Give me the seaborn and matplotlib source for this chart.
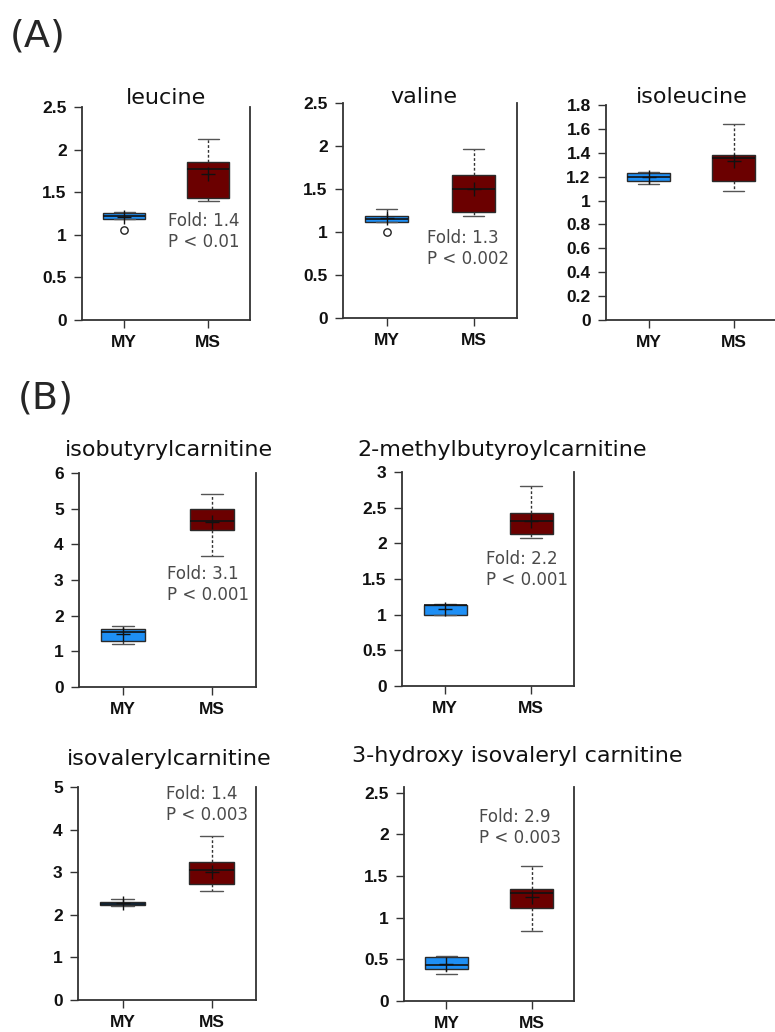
import numpy as np
import pandas as pd
import matplotlib
matplotlib.use('Agg')
import matplotlib.pyplot as plt
import seaborn as sns

# five-number summaries: [low whisker, Q1, median, Q3, high whisker]
groups = ['MY', 'MS']
box_colors = {'MY': '#1e8ff5', 'MS': '#6b0000'}

leucine_my = [1.18, 1.18, 1.22, 1.26, 1.27]
leucine_ms = [1.40, 1.43, 1.77, 1.85, 2.13]
leucine_means = [1.21, 1.71]
leucine_out = [1.06]

valine_my = [1.12, 1.12, 1.15, 1.19, 1.27]
valine_ms = [1.19, 1.23, 1.50, 1.66, 1.97]
valine_means = [1.16, 1.50]
valine_out = [1.00]

isoleucine_my = [1.14, 1.16, 1.20, 1.23, 1.24]
isoleucine_ms = [1.08, 1.16, 1.36, 1.38, 1.64]
isoleucine_means = [1.20, 1.33]

isobutyryl_my = [1.21, 1.28, 1.55, 1.62, 1.72]
isobutyryl_ms = [3.67, 4.40, 4.65, 5.00, 5.40]
isobutyryl_means = [1.48, 4.62]

methylbutyroyl_my = [1.00, 1.00, 1.13, 1.13, 1.15]
methylbutyroyl_ms = [2.08, 2.13, 2.32, 2.42, 2.81]
methylbutyroyl_means = [1.08, 2.32]

isovaleryl_my = [2.20, 2.22, 2.26, 2.29, 2.38]
isovaleryl_ms = [2.57, 2.73, 3.05, 3.23, 3.84]
isovaleryl_means = [2.27, 3.00]

hydroxy_my = [0.32, 0.39, 0.43, 0.53, 0.54]
hydroxy_ms = [0.84, 1.12, 1.30, 1.35, 1.62]
hydroxy_means = [0.44, 1.25]

sns.set_style('ticks')
plt.rcParams['font.family'] = ['DejaVu Sans']

W, H = 775, 1032
fig = plt.figure(figsize=(W / 100, H / 100), dpi=100)

tickfont = dict(fontfamily=['Liberation Sans', 'DejaVu Sans'], fontweight='bold', fontsize=12.5)
spine_col = '#333333'


def add_panel(rect, my, ms, means, ytop, yticks, outliers=None):
    l, r, t, b = rect
    ax = fig.add_axes([l / W, 1 - b / H, (r - l) / W, (b - t) / H])
    df = pd.DataFrame({'group': ['MY'] * len(my) + ['MS'] * len(ms), 'value': my + ms})
    sns.boxplot(data=df, x='group', y='value', hue='group', order=groups, palette=box_colors,
                width=0.5, whis=np.inf, showfliers=False, saturation=1, linecolor='#2a2a2a',
                linewidth=1, legend=False, ax=ax,
                whiskerprops={'linestyle': (0, (2, 1.5)), 'color': '#333333'},
                capprops={'color': '#555555'}, medianprops={'color': '#111111', 'linewidth': 1.2})
    ax.scatter([0, 1], means, marker='+', s=90, color='#111111', linewidths=1, zorder=5)
    if outliers:
        ax.scatter([0] * len(outliers), outliers, marker='o', s=28, facecolors='white',
                   edgecolors='#222222', linewidths=1, zorder=5)
    ax.set_xlim(-0.5, 1.5)
    ax.set_ylim(0, ytop)
    ax.set_xlabel('')
    ax.set_ylabel('')
    ax.set_yticks(yticks, labels=['%g' % v for v in yticks], **tickfont)
    ax.set_xticks([0, 1], labels=groups, **tickfont)
    ax.tick_params(axis='both', length=6, width=1.0, color=spine_col, pad=5, labelcolor='#111111')
    ax.spines['top'].set_visible(False)
    for s in ['left', 'bottom', 'right']:
        ax.spines[s].set_linewidth(1.3)
        ax.spines[s].set_color(spine_col)
    ax.set_facecolor('none')
    return ax


def note(x, y, txt):
    fig.text(x / W, 1 - y / H, txt, fontsize=12, color='#4a4a4a', va='top', ha='left',
             linespacing=1.2)


def title(x, y, txt, ha='center'):
    fig.text(x / W, 1 - y / H, txt, fontsize=16, color='#111111', ha=ha, va='baseline')


# panel A
add_panel((82, 250, 107, 320), leucine_my, leucine_ms, leucine_means, 2.5,
          [0, 0.5, 1, 1.5, 2, 2.5], leucine_out)
title(166, 104, 'leucine')
note(168, 212, 'Fold: 1.4\nP < 0.01')

add_panel((343, 517, 103, 318), valine_my, valine_ms, valine_means, 2.5,
          [0, 0.5, 1, 1.5, 2, 2.5], valine_out)
title(424, 103, 'valine')
note(427, 229, 'Fold: 1.3\nP < 0.002')

add_panel((606, 776, 105, 320), isoleucine_my, isoleucine_ms, isoleucine_means, 1.8,
          [0, 0.2, 0.4, 0.6, 0.8, 1, 1.2, 1.4, 1.6, 1.8])
title(692, 103, 'isoleucine')

# panel B
add_panel((79, 256, 473, 687), isobutyryl_my, isobutyryl_ms, isobutyryl_means, 6,
          [0, 1, 2, 3, 4, 5, 6])
title(169, 456, 'isobutyrylcarnitine')
note(167, 565, 'Fold: 3.1\nP < 0.001')

add_panel((402, 574, 472, 686), methylbutyroyl_my, methylbutyroyl_ms, methylbutyroyl_means, 3,
          [0, 0.5, 1, 1.5, 2, 2.5, 3])
title(357, 456, '2-methylbutyroylcarnitine', ha='left')
note(486, 550, 'Fold: 2.2\nP < 0.001')

add_panel((78, 256, 787, 1000), isovaleryl_my, isovaleryl_ms, isovaleryl_means, 5,
          [0, 1, 2, 3, 4, 5])
title(169, 765, 'isovalerylcarnitine')
note(166, 785, 'Fold: 1.4\nP < 0.003')

add_panel((404, 574, 787, 1001), hydroxy_my, hydroxy_ms, hydroxy_means, 2.57,
          [0, 0.5, 1, 1.5, 2, 2.5])
title(352, 762, '3-hydroxy isovaleryl carnitine', ha='left')
note(479, 808, 'Fold: 2.9\nP < 0.003')

fig.text(10 / W, 1 - 37 / H, '(A)', fontsize=27.5, va='center', ha='left')
fig.text(18 / W, 1 - 398 / H, '(B)', fontsize=27.5, va='center', ha='left')

fig.savefig('out.png', dpi=100, facecolor='white')
